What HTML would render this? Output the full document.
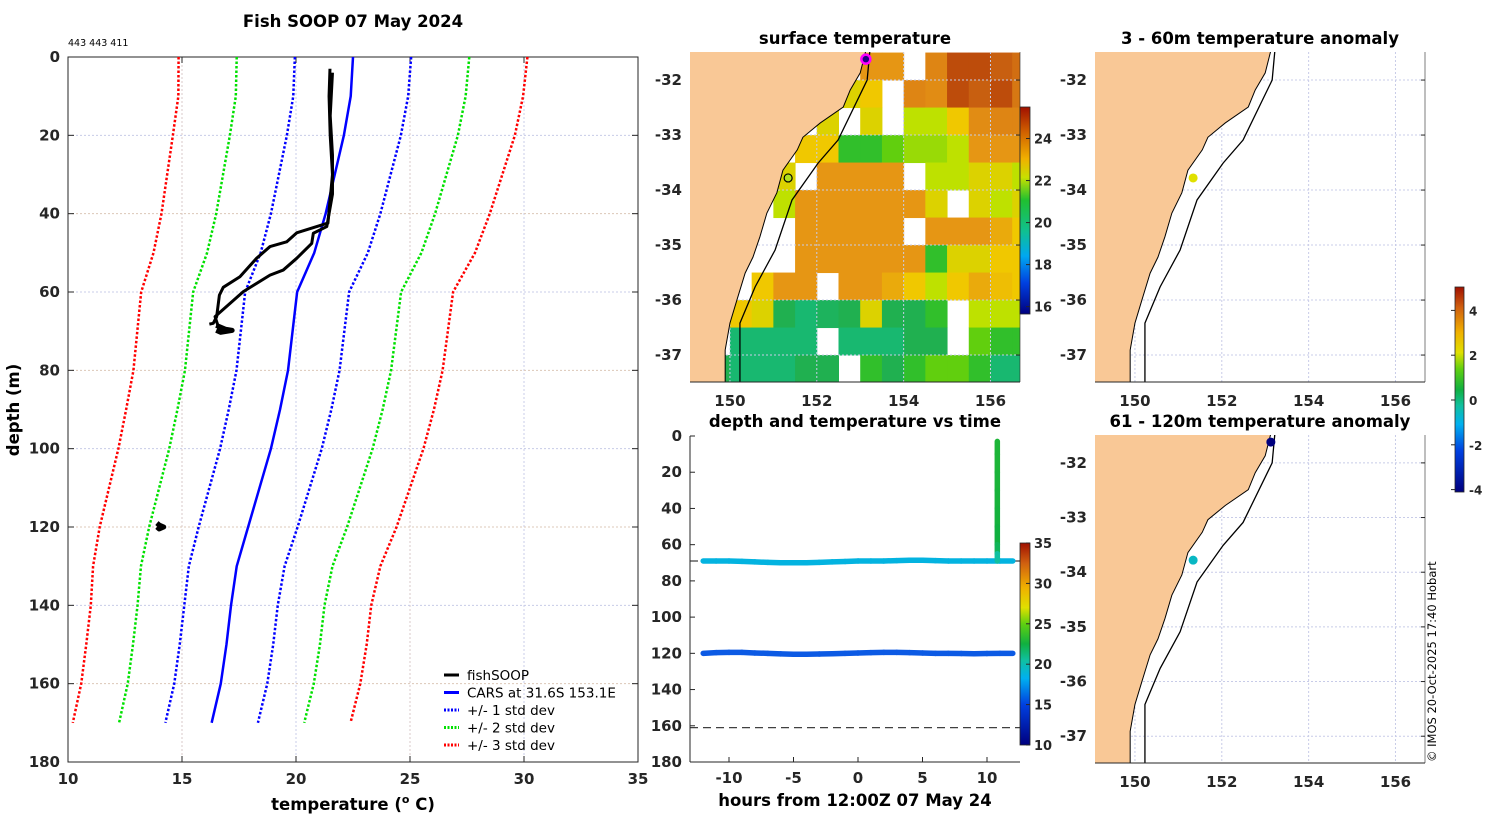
<!DOCTYPE html>
<html><head><meta charset="utf-8"><style>
body{margin:0;background:#fff}
svg{display:block;font-family:"DejaVu Sans","Liberation Sans",sans-serif}
.tk{font-size:15px;font-weight:bold;fill:#262626}
.tt{font-size:16.5px;font-weight:bold;fill:#000}
</style></head><body>
<svg id="fig" width="1500" height="820" viewBox="0 0 1500 820">
<defs>
<linearGradient id="sstGrad" x1="0" y1="1" x2="0" y2="0">
<stop offset="0" stop-color="#00007f"/><stop offset="0.15" stop-color="#0040e0"/><stop offset="0.28" stop-color="#00a8f0"/><stop offset="0.4" stop-color="#10c090"/><stop offset="0.55" stop-color="#20c030"/><stop offset="0.66" stop-color="#c8e000"/><stop offset="0.75" stop-color="#f0b000"/><stop offset="0.88" stop-color="#d06000"/><stop offset="1" stop-color="#a01000"/></linearGradient>
<linearGradient id="jetGrad" x1="0" y1="1" x2="0" y2="0">
<stop offset="0" stop-color="#00007f"/><stop offset="0.2" stop-color="#0040e0"/><stop offset="0.33" stop-color="#00b0f0"/><stop offset="0.42" stop-color="#10c0a0"/><stop offset="0.5" stop-color="#10b040"/><stop offset="0.6" stop-color="#60d010"/><stop offset="0.68" stop-color="#e0e000"/><stop offset="0.78" stop-color="#f0b000"/><stop offset="0.9" stop-color="#d06010"/><stop offset="1" stop-color="#a01000"/></linearGradient>
<clipPath id="clipSst"><rect x="690" y="52" width="330" height="330"/></clipPath>
<clipPath id="clipA1"><rect x="1095" y="52" width="330" height="330"/></clipPath>
<clipPath id="clipA2"><rect x="1095" y="435" width="330" height="328"/></clipPath>
<clipPath id="clipT"><rect x="690" y="436" width="330" height="326"/></clipPath>
</defs>
<g id="main"></g><g id="maps"></g><g id="time"></g>
</svg>
<script>
// ===== Profile data =====
const depths=[0,10,20,30,40,50,60,70,80,90,100,110,120,130,140,150,160,170];
const carsMean=[22.5,22.4,22.1,21.7,21.3,20.8,20.05,19.85,19.65,19.3,18.9,18.4,17.9,17.4,17.15,16.95,16.7,16.3];
const carsStd=[2.55,2.52,2.5,2.45,2.4,2.35,2.28,2.27,2.26,2.25,2.23,2.2,2.17,2.1,2.05,2.05,2.04,2.03];
const soopDownT=[21.49,21.45,21.5,21.6,21.4,20.03,19.59,18.86,18.27,17.54,16.81,16.64,16.52,16.37,16.2];
const soopDownD=[3,10,20,30,42.4,44.9,47.2,48.4,51.4,56.1,58.8,60.8,66.3,68,68.2];
const soopUpT=[16.6,16.45,17.69,18.86,19.44,20.03,20.69,20.76,21.35,21.6,21.6,21.5,21.6];
const soopUpD=[69,66.3,59.9,55.7,54.4,51.4,47.6,45,43.3,35,25,15,4];
const soopBottomT=[16.5,16.9,17.2,16.7,16.5];
const soopBottomD=[68.5,69.5,69.8,70.3,69.8];
const soopDeepT=[13.9,14.0,14.2,14.0,13.9];
const soopDeepD=[119,119.5,120,120.5,120];
const xTicks=[10,15,20,25,30,35];
const yTicks=[0,20,40,60,80,100,120,140,160,180];

// ===== SST map data (0.5 deg cells, lon from 149.0, lat from -31.5 downward); null = no data =====
const sstLon0=149.0, sstLat0=-31.5;
const sstRows=[
[null,null,null,null,null,null,null,null,23,23,null,23.5,24.5,24.5,24.3,24],
[null,null,null,null,null,null,null,22.3,22.5,null,23.5,23.3,24.5,24.3,24.5,23.8],
[null,null,null,null,null,null,22.3,null,22.3,null,22,22,22.5,23.3,23.5,23.5],
[null,null,null,null,null,22.5,22.5,21,21,21.5,21.8,21.8,22,23,23,23],
[null,null,null,null,22.3,null,23,23,23,23,null,22,22,22.3,22.3,22],
[null,null,null,null,22,23,23,23,23,23,23,22.3,null,22.3,22,22.3],
[null,null,null,null,null,23,23,23,23,23,null,23,23,23,22.8,22.5],
[null,null,null,null,null,23,23,23,23,23,23,21,22.3,22.3,22.5,22.5],
[null,null,null,22.5,23,23,null,23,23,22.8,22.5,22,22.5,22.8,22.6,22.5],
[null,null,22.5,22.3,20.5,20,20.3,20.5,22.3,20.5,20.5,21,null,22,22,22],
[null,null,20,20,20,20,null,20,20,20,20.5,20.5,null,21.5,21,21],
[null,20.5,20,20,20,20.5,20.5,null,21,20.5,21,21.5,21.5,21,20,20]];
const coastLon=[153.15,153.0,152.77,152.61,152.08,151.68,151.55,151.22,151.08,150.85,150.69,150.53,150.35,150.16,150.0,149.89,149.89];
const coastLat=[-31.4,-31.87,-32.18,-32.49,-32.78,-33.04,-33.27,-33.64,-34.05,-34.42,-34.85,-35.22,-35.51,-36.0,-36.42,-36.91,-37.6];
const isoLon=[153.23,153.16,152.49,152.03,151.43,151.04,150.58,150.23,150.23];
const isoLat=[-31.4,-32.0,-33.09,-33.51,-34.18,-35.09,-35.76,-36.42,-37.6];
const lonTicks=[150,152,154,156];
const latTicks=[-32,-33,-34,-35,-36,-37];
const sstTicks=[16,18,20,22,24];
const anomTicks=[-4,-2,0,2,4];
const obsLon=[153.13,151.34];
const obsLat=[-31.62,-33.78];
const anomShallow=[null,2.0];
const anomDeep=[-4.0,-1.0];

// ===== Time series data =====
const hours=[-12,-11,-10,-9,-8,-7,-6,-5,-4,-3,-2,-1,0,1,2,3,4,5,6,7,8,9,10,11,12];
const depthA=[69,69,69,69.2,69.5,69.8,70,70,70,69.8,69.5,69.3,69,69,69,68.8,68.6,68.6,68.8,69,69,69,69,69,69];
const tempA=[17,17,17,17,17,17,17,17,17,17,17,17,17,17,17,17,17,17,17,17,17,17,17,17,17];
const depthB=[120,119.6,119.5,119.5,119.8,120,120.3,120.5,120.5,120.4,120.2,120,119.8,119.6,119.5,119.5,119.6,119.8,120,120,120.1,120.2,120.1,120,120];
const tempB=[13.8,13.8,13.8,13.8,13.8,13.8,13.8,13.8,13.8,13.8,13.8,13.8,13.8,13.8,13.8,13.8,13.8,13.8,13.8,13.8,13.8,13.8,13.8,13.8,13.8];
const castHour=10.8;
const castDepth=[3,10,20,30,40,50,60,65,69];
const castTemp=[21.5,21.5,21.4,21.3,21.2,21,20.5,19,17.5];
const timeXTicks=[-10,-5,0,5,10];
const timeYTicks=[0,20,40,60,80,100,120,140,160,180];
const timeCTicks=[10,15,20,25,30,35];
const refDepths=[69,161];

const NS="http://www.w3.org/2000/svg";
function mk(parent,tag,attrs,text){const e=document.createElementNS(NS,tag);for(const k in attrs)e.setAttribute(k,attrs[k]);if(text!==undefined)e.textContent=text;parent.appendChild(e);return e;}

function interpStops(stops,v){if(v<=stops[0][0])return 'rgb('+stops[0][1].join(',')+')';for(let i=1;i<stops.length;i++){if(v<=stops[i][0]){const a=stops[i-1],b=stops[i],t=(v-a[0])/(b[0]-a[0]);const ca=a[1],cb=b[1];return 'rgb('+ca.map((c,j)=>Math.round(c+(cb[j]-c)*t)).join(',')+')';}}const l=stops[stops.length-1][1];return 'rgb('+l.join(',')+')';}
const sstStops=[[15.5,[0,0,127]],[17,[0,64,224]],[18.3,[0,168,240]],[19.5,[16,192,144]],[20.5,[32,176,80]],[21.3,[60,200,20]],[22,[190,225,0]],[22.5,[240,200,0]],[23,[230,150,20]],[23.6,[220,130,20]],[24.3,[200,95,16]],[25,[160,30,0]]];
function sstColor(v){return interpStops(sstStops,v);}
const jetStops=[[-4,[0,0,127]],[-3,[0,64,224]],[-1.5,[0,176,240]],[-0.5,[16,190,150]],[0,[16,176,64]],[1,[96,208,16]],[2,[224,224,0]],[3,[240,176,0]],[4,[208,96,16]],[5,[160,16,0]]];
function anomColor(v){return interpStops(jetStops,v);}
const tStops=[[10,[0,0,127]],[13,[16,64,224]],[16.5,[0,176,240]],[19,[16,192,160]],[21,[16,176,64]],[24,[96,208,16]],[26,[224,224,0]],[28,[240,176,0]],[32,[208,96,16]],[35,[160,16,0]]];
function tColor(v){return interpStops(tStops,v);}

// ===== main profile chart =====
(function(){
const g=document.getElementById('main');
const L=68,R=638,T=57,B=762;
const xs=t=>L+(t-10)/(35-10)*(R-L);
const ys=d=>T+d/180*(B-T);
const t=mk(g,'text',{x:353,y:27,'text-anchor':'middle',class:'tt'},'Fish SOOP 07 May 2024');

const id=mk(g,'text',{x:68,y:46,'font-size':'9.5px',fill:'#000'},'443 443 411');

mk(g,'rect',{x:L,y:T,width:R-L,height:B-T,fill:'#fff'});
xTicks.forEach((v,i)=>{if(i>0&&i<xTicks.length-1){const l=mk(g,'line',{x1:xs(v),x2:xs(v),y1:T,y2:B,stroke:i%2?'#d8c8c8':'#c8cce8','stroke-dasharray':'2,2','stroke-width':1});}
 const tx=mk(g,'text',{x:xs(v),y:B+22,'text-anchor':'middle',class:'tk'},String(v));
 mk(g,'line',{x1:xs(v),x2:xs(v),y1:B,y2:B-6,stroke:'#262626'});mk(g,'line',{x1:xs(v),x2:xs(v),y1:T,y2:T+6,stroke:'#262626'});});
yTicks.forEach((v,i)=>{if(i>0&&i<yTicks.length-1){const l=mk(g,'line',{x1:L,x2:R,y1:ys(v),y2:ys(v),stroke:i%2?'#c8cce8':'#dcc8b8','stroke-dasharray':'2,2'});}
 const tx=mk(g,'text',{x:L-8,y:ys(v)+5,'text-anchor':'end',class:'tk'},String(v));
 mk(g,'line',{x1:L,x2:L+6,y1:ys(v),y2:ys(v),stroke:'#262626'});mk(g,'line',{x1:R,x2:R-6,y1:ys(v),y2:ys(v),stroke:'#262626'});});
const fr=mk(g,'rect',{x:L,y:T,width:R-L,height:B-T,fill:'none',stroke:'#262626','stroke-width':1});

const xl=mk(g,'text',{x:353,y:810,'text-anchor':'middle',class:'tt'},'temperature (');

mk(xl,'tspan',{'font-size':'11px',dy:-7},'o');mk(xl,'tspan',{dy:7},' C)');
const yl=mk(g,'text',{x:19,y:410,'text-anchor':'middle',class:'tt',transform:'rotate(-90 19 410)'},'depth (m)');

function pl(T_,D_,color,dash,w,name){const p=mk(g,'polyline',{points:T_.map((t,i)=>xs(t)+','+ys(D_[i])).join(' '),fill:'none',stroke:color,'stroke-width':w,'stroke-linejoin':'round'});if(dash)p.setAttribute('stroke-dasharray',dash);return p;}
const cols={1:'#0000ff',2:'#00e000',3:'#ff0000'};
[3,2,1].forEach(k=>{pl(carsMean.map((m,i)=>m-k*carsStd[i]),depths,cols[k],'2.5,2',2.5,'cars-minus-'+k+'-std');pl(carsMean.map((m,i)=>m+k*carsStd[i]),depths,cols[k],'2.5,2',2.5,'cars-plus-'+k+'-std');});
pl(carsMean,depths,'#0000ff',null,2.5,'cars-mean-line');
pl(soopDownT,soopDownD,'#000',null,3,'fishsoop-descent');
pl(soopUpT,soopUpD,'#000',null,3,'fishsoop-ascent');
pl(soopBottomT,soopBottomD,'#000',null,5,'fishsoop-bottom-1');
pl(soopDeepT,soopDeepD,'#000',null,5,'fishsoop-bottom-2');
const lg=mk(g,'g',{});
const items=[['fishSOOP','#000',null],['CARS at 31.6S 153.1E','#0000ff',null],['+/- 1 std dev','#0000ff','2,1.5'],['+/- 2 std dev','#00e000','2,1.5'],['+/- 3 std dev','#ff0000','2,1.5']];
items.forEach((it,i)=>{const y=675+i*17.5;const ln=mk(lg,'line',{x1:444,x2:459,y1:y,y2:y,stroke:it[1],'stroke-width':3});if(it[2])ln.setAttribute('stroke-dasharray',it[2]);
 const tx=mk(lg,'text',{x:467,y:y+5,'font-size':'13.5px',fill:'#000'},it[0]);});
})();

// ===== maps =====
function drawMap(g,box,clipId,title,withSst){
const {L,T,W,H}=box;
const lonMin=149.08,lonMax=156.68,latMax=-31.49,latMin=-37.49;
const xs=lo=>L+(lo-lonMin)/(lonMax-lonMin)*W;
const ys=la=>T+(latMax-la)/(latMax-latMin)*H;
const tt=mk(g,'text',{x:L+W/2,y:T-8,'text-anchor':'middle',class:'tt'},title);

const cg=mk(g,'g',{'clip-path':'url(#'+clipId+')'});
mk(cg,'rect',{x:L,y:T,width:W,height:H,fill:'#fff'});
if(withSst){sstRows.forEach((row,r)=>row.forEach((v,c)=>{if(v===null)return;const lo=sstLon0+c*0.5,la=sstLat0-r*0.5;
 const rc=mk(cg,'rect',{x:xs(lo),y:ys(la),width:xs(lo+0.5)-xs(lo)+0.5,height:ys(la-0.5)-ys(la)+0.5,fill:sstColor(v)});
 }));}
lonTicks.forEach(v=>mk(cg,'line',{x1:xs(v),x2:xs(v),y1:T,y2:T+H,stroke:'#c8cce8','stroke-dasharray':'2,2'}));
latTicks.forEach(v=>mk(cg,'line',{x1:L,x2:L+W,y1:ys(v),y2:ys(v),stroke:'#c8cce8','stroke-dasharray':'2,2'}));
const landPts=[[xs(148),ys(-31)]].concat(coastLon.map((lo,i)=>[xs(lo),ys(coastLat[i])])).concat([[xs(148),ys(-38)]]);
const land=mk(cg,'polygon',{points:landPts.map(p=>p.join(',')).join(' '),fill:'#f9c896',stroke:'#000','stroke-width':1});

const iso=mk(cg,'polyline',{points:isoLon.map((lo,i)=>xs(lo)+','+ys(isoLat[i])).join(' '),fill:'none',stroke:'#000','stroke-width':1.3});

mk(g,'line',{x1:L,x2:L+W,y1:T+H,y2:T+H,stroke:'#262626'});
mk(g,'line',{x1:L+W,x2:L+W,y1:T,y2:T+H,stroke:'#262626','stroke-opacity':0.6});
lonTicks.forEach(v=>{const tx=mk(g,'text',{x:xs(v),y:T+H+24,'text-anchor':'middle',class:'tk'},String(v));});
latTicks.forEach(v=>{const tx=mk(g,'text',{x:L-8,y:ys(v)+5,'text-anchor':'end',class:'tk'},String(v));
 mk(g,'line',{x1:L+W,x2:L+W-4,y1:ys(v),y2:ys(v),stroke:'#262626'});});
return {xs,ys,cg};
}
(function(){
const g=document.getElementById('maps');
const m1=drawMap(g,{L:690,T:52,W:330,H:330},'clipSst','surface temperature',true);
const c1=mk(m1.cg,'circle',{cx:m1.xs(obsLon[0]),cy:m1.ys(obsLat[0]),r:4.5,fill:'#200080',stroke:'#ff00ff','stroke-width':2.5});

const c2=mk(m1.cg,'circle',{cx:m1.xs(obsLon[1]),cy:m1.ys(obsLat[1]),r:4,fill:'#b0e020',stroke:'#000','stroke-width':1.2});

const cb=mk(g,'rect',{x:1020,y:107,width:10,height:207,fill:'url(#sstGrad)',stroke:'#262626','stroke-width':0.8});

const cy=v=>314-(v-15.65)/(25.5-15.65)*207;
sstTicks.forEach(v=>{mk(g,'line',{x1:1026,x2:1030,y1:cy(v),y2:cy(v),stroke:'#262626'});const tx=mk(g,'text',{x:1034,y:cy(v)+5,class:'tk'},String(v));tx.style.fontSize='13px';});
const m2=drawMap(g,{L:1095,T:52,W:330,H:330},'clipA1','3 - 60m temperature anomaly',false);
anomShallow.forEach((v,i)=>{if(v===null)return;const c=mk(m2.cg,'circle',{cx:m2.xs(obsLon[i]),cy:m2.ys(obsLat[i]),r:4.5,fill:anomColor(v)});});
const m3=drawMap(g,{L:1095,T:435,W:330,H:328},'clipA2','61 - 120m temperature anomaly',false);
anomDeep.forEach((v,i)=>{if(v===null)return;const c=mk(m3.cg,'circle',{cx:m3.xs(obsLon[i]),cy:m3.ys(obsLat[i]),r:4.5,fill:anomColor(v)});});
const ab=mk(g,'rect',{x:1455,y:287,width:9,height:205,fill:'url(#jetGrad)',stroke:'#262626','stroke-width':0.8});

const ay=v=>400-v*22.4;
anomTicks.forEach(v=>{mk(g,'line',{x1:1451,x2:1455,y1:ay(v),y2:ay(v),stroke:'#262626'});const tx=mk(g,'text',{x:1469,y:ay(v)+5,class:'tk'},String(v));tx.style.fontSize='12px';});
const cr=mk(g,'text',{x:1436,y:762,'font-size':'11.5px',fill:'#000',transform:'rotate(-90 1436 762)'},'© IMOS 20-Oct-2025 17:40 Hobart');

})();

// ===== time panel =====
(function(){
const g=document.getElementById('time');
const L=690,R=1020,T=436,B=762;
const xs=h=>858+h*12.9;
const ys=d=>T+d/180*(B-T);
const tt=mk(g,'text',{x:855,y:427,'text-anchor':'middle',class:'tt'},'depth and temperature vs time');

const cg=mk(g,'g',{'clip-path':'url(#clipT)'});
refDepths.forEach(d=>{const l=mk(cg,'line',{x1:L,x2:R,y1:ys(d),y2:ys(d),stroke:'#404040','stroke-dasharray':'8,5','stroke-width':1.2});});
function band(D,Tm,name){for(let i=0;i<hours.length-1;i++){const s=mk(cg,'line',{x1:xs(hours[i]),y1:ys(D[i]),x2:xs(hours[i+1]),y2:ys(D[i+1]),stroke:tColor(Tm[i]),'stroke-width':5.5,'stroke-linecap':'round'});}}
band(depthA,tempA,'mid-depth-trace');band(depthB,tempB,'deep-trace');
for(let i=0;i<castDepth.length-1;i++){const s=mk(cg,'line',{x1:xs(castHour),y1:ys(castDepth[i]),x2:xs(castHour),y2:ys(castDepth[i+1]),stroke:tColor(castTemp[i]),'stroke-width':5.5,'stroke-linecap':'round'});}
mk(g,'line',{x1:L,x2:L,y1:T,y2:B,stroke:'#262626'});
mk(g,'line',{x1:L,x2:R,y1:B,y2:B,stroke:'#262626'});
timeXTicks.forEach(v=>{mk(g,'line',{x1:xs(v),x2:xs(v),y1:B,y2:B-5,stroke:'#262626'});const tx=mk(g,'text',{x:xs(v),y:B+21,'text-anchor':'middle',class:'tk'},String(v));});
timeYTicks.forEach(v=>{mk(g,'line',{x1:L,x2:L+5,y1:ys(v),y2:ys(v),stroke:'#262626'});const tx=mk(g,'text',{x:L-8,y:ys(v)+5,'text-anchor':'end',class:'tk'},String(v));});
const xl=mk(g,'text',{x:855,y:806,'text-anchor':'middle',class:'tt'},'hours from 12:00Z 07 May 24');

const cb=mk(g,'rect',{x:1020,y:543,width:10,height:202,fill:'url(#jetGrad)',stroke:'#262626','stroke-width':0.8});

const cy=v=>745-(v-10)/25*202;
timeCTicks.forEach(v=>{mk(g,'line',{x1:1026,x2:1030,y1:cy(v),y2:cy(v),stroke:'#262626'});const tx=mk(g,'text',{x:1034,y:cy(v)+5,class:'tk'},String(v));tx.style.fontSize='13px';});
})();
</script>
</body></html>
